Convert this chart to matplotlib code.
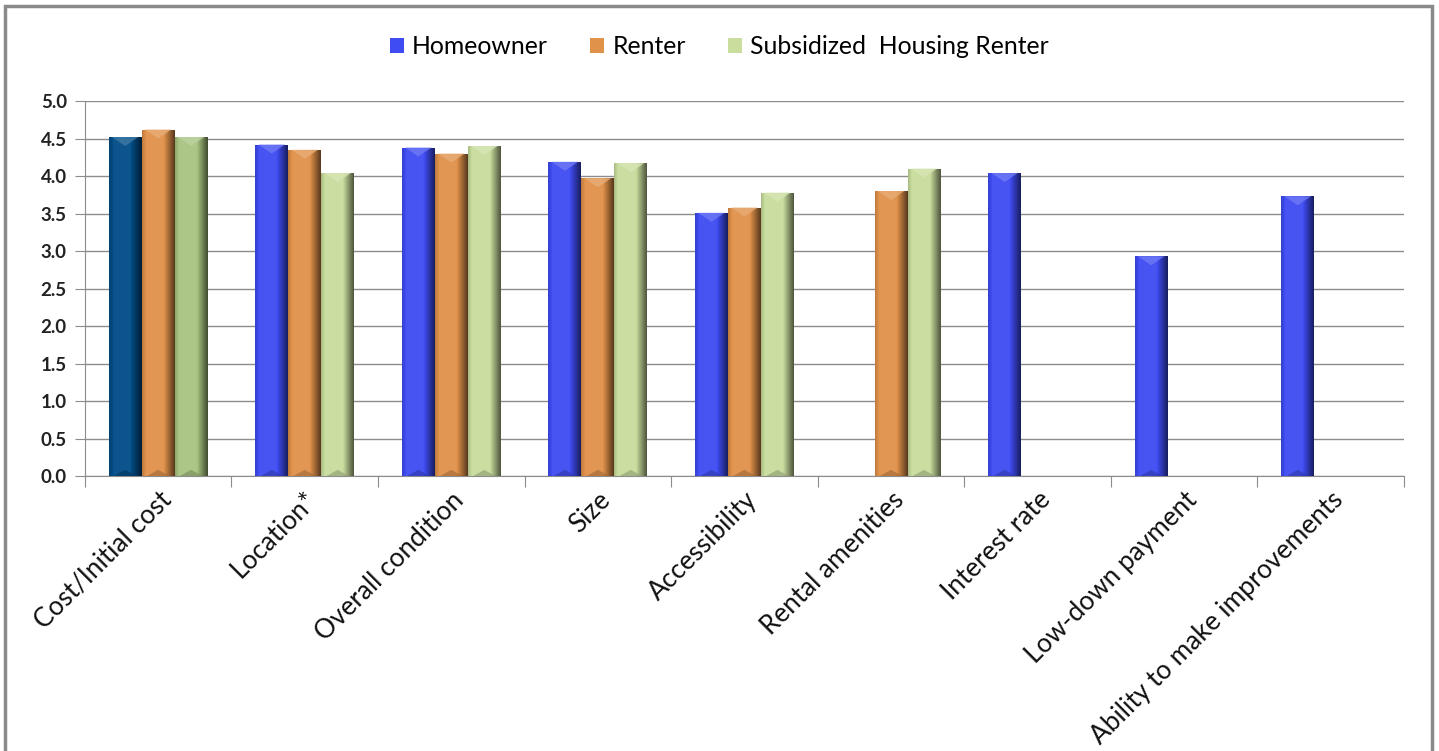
import numpy as np
import matplotlib
matplotlib.use("Agg")
import matplotlib.pyplot as plt
from matplotlib.patches import Rectangle, Patch
from matplotlib.colors import to_rgb

plt.rcParams['font.family'] = ['Lato', 'DejaVu Sans']

categories = ["Cost/Initial cost", "Location*", "Overall condition", "Size", "Accessibility",
              "Rental amenities", "Interest rate", "Low-down payment", "Ability to make improvements"]
series_names = ["Homeowner", "Renter", "Subsidized  Housing Renter"]
homeowner = [4.52, 4.42, 4.38, 4.19, 3.51, np.nan, 4.04, 2.93, 3.73]
renter = [4.62, 4.35, 4.30, 3.97, 3.58, 3.80, np.nan, np.nan, np.nan]
subsidized = [4.52, 4.04, 4.40, 4.17, 3.78, 4.10, np.nan, np.nan, np.nan]
yticks = [0.0, 0.5, 1.0, 1.5, 2.0, 2.5, 3.0, 3.5, 4.0, 4.5, 5.0]

base_colors = ["#3F4CF2", "#E0914A", "#C9DD9D"]
first_colors = ["#004C85", "#E0914A", "#A7C480"]

fig = plt.figure(figsize=(14.39, 7.51), dpi=100)
ax = fig.add_axes([0.059, 0.366, 0.9167, 0.4995])

n = len(categories)
bw = 0.225
centers = np.arange(n) + 0.5
offsets = [-bw, 0, bw]
data = [homeowner, renter, subsidized]


def shade(c, f):
    r = np.array(to_rgb(c))
    if f >= 0:
        return r + (1 - r) * f
    return r * (1 + f)


def add_gradient(patch, color):
    x, y = patch.get_x(), patch.get_y()
    w, h = patch.get_width(), patch.get_height()
    if not np.isfinite(h) or h <= 0:
        return
    nx = 40
    t = np.linspace(0, 1, nx)
    prof = np.where(t < 0.12, -0.15 + t * 1.5,
                    np.where(t < 0.65, 0.05, 0.05 - (t - 0.65) / 0.35 * 0.65))
    img = np.array([[shade(color, p) for p in prof]])
    im = ax.imshow(img, extent=(x, x + w, y, y + h), aspect='auto',
                   zorder=3, interpolation='bilinear', origin='lower')
    im.set_clip_path(patch)
    th = min(0.12, h * 0.3)
    tri = plt.Polygon([[x + w * 0.1, y + h], [x + w * 0.9, y + h], [x + w * 0.5, y + h - th]],
                      closed=True, facecolor=shade(color, 0.25), edgecolor='none',
                      zorder=4, alpha=0.8)
    ax.add_patch(tri)
    tri2 = plt.Polygon([[x + w * 0.15, y], [x + w * 0.85, y], [x + w * 0.5, y + th * 0.7]],
                       closed=True, facecolor=shade(color, -0.3), edgecolor='none',
                       zorder=4, alpha=0.6)
    ax.add_patch(tri2)


for s in range(3):
    cols = [first_colors[s] if i == 0 else base_colors[s] for i in range(n)]
    bars = ax.bar(centers + offsets[s], data[s], width=bw, color=cols,
                  edgecolor='none', zorder=2)
    for b, c in zip(bars, cols):
        add_gradient(b, c)

ax.set_xlim(0, n)
ax.set_ylim(0, 5.0)
ax.set_yticks(yticks)
ax.set_yticklabels([f"{v:.1f}" for v in yticks], fontsize=13.5, fontweight='bold', color='#222222')
ax.yaxis.grid(True, color='#8C8C8C', linewidth=1.0, zorder=0)
ax.set_axisbelow(True)

ax.set_xticks(np.arange(n + 1))
ax.set_xticklabels([])
ax.set_xticks(centers, minor=True)
ax.set_xticklabels(categories, minor=True, rotation=45, ha='right',
                   rotation_mode='anchor', fontsize=18.8, color='#111111')
ax.tick_params(axis='x', which='minor', length=0, pad=8)
ax.tick_params(axis='x', which='major', length=8, color='#8C8C8C', direction='out')
ax.tick_params(axis='y', length=7, color='#8C8C8C', direction='out', pad=6)

for sp in ['top', 'right']:
    ax.spines[sp].set_visible(False)
for sp in ['left', 'bottom']:
    ax.spines[sp].set_color('#8C8C8C')

handles = [Patch(facecolor=c, edgecolor='none') for c in base_colors]
fig.legend(handles, series_names, loc='center', bbox_to_anchor=(0.5, 0.938), ncol=3,
           frameon=False, fontsize=17.8, handlelength=0.55, handleheight=0.55,
           columnspacing=1.7, handletextpad=0.35)

border = Rectangle((5 / 1439, -0.05), 1427 / 1439, 1 - 6 / 751 + 0.05, transform=fig.transFigure,
                   fill=False, edgecolor='#8A8A8A', linewidth=2.5)
fig.patches.append(border)

fig.savefig("out.png", dpi=100)
